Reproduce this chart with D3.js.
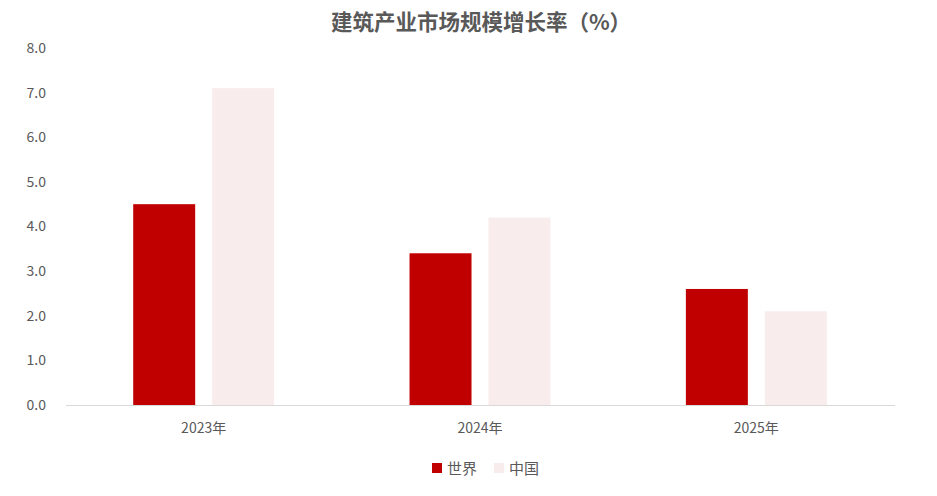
<!DOCTYPE html>
<html><head><meta charset="utf-8">
<script src="https://cdn.jsdelivr.net/npm/d3@7"></script>
<style>body{margin:0;background:#fff;}svg{display:block;font-family:"Noto Sans CJK SC","Noto Sans",sans-serif;}</style>
</head><body>
<svg id="c" width="937" height="496"></svg>
<script>
const categories = ["2023年", "2024年", "2025年"];
const seriesNames = ["世界", "中国"];
const worldValues = [4.5, 3.4, 2.6];
const chinaValues = [7.1, 4.2, 2.1];
const yTicks = [0, 1, 2, 3, 4, 5, 6, 7, 8];
const colors = ["#C00000", "#F9ECEC"];
const title = "建筑产业市场规模增长率（%）";

const svg = d3.select("#c");
const m = {l: 65.5, r: 42.5, t: 48, b: 91};
const W = 937, H = 496;
const x0 = d3.scaleBand().domain(categories).range([m.l, W - m.r]).paddingInner(0.49).paddingOuter(0.245);
const x1 = d3.scaleBand().domain(seriesNames).range([0, x0.bandwidth()]).paddingInner(0.215).paddingOuter(0);
const y = d3.scaleLinear().domain([0, 8]).range([H - m.b, m.t]);

svg.append("text").attr("x", 481).attr("y", 30).attr("text-anchor", "middle")
  .attr("font-size", 21.5).attr("font-weight", "bold").attr("fill", "#595959").text(title);

const yAxis = d3.axisLeft(y).tickValues(yTicks).tickFormat(d3.format(".1f")).tickSize(0).tickPadding(19.5);
const gy = svg.append("g").attr("transform", `translate(${m.l},0)`).call(yAxis);
gy.select(".domain").remove();
gy.selectAll("text").attr("font-size", 14).attr("fill", "#595959").attr("font-family", "Noto Sans CJK SC");

const data = categories.map((c, i) => ({cat: c, vals: [worldValues[i], chinaValues[i]]}));
const g = svg.append("g");
data.forEach(d => {
  d.vals.forEach((v, j) => {
    g.append("rect")
      .attr("x", x0(d.cat) + x1(seriesNames[j]))
      .attr("y", y(v))
      .attr("width", x1.bandwidth())
      .attr("height", y(0) - y(v))
      .attr("fill", colors[j]);
  });
});

const xAxis = d3.axisBottom(x0).tickSize(0).tickPadding(18);
const gx = svg.append("g").attr("transform", `translate(0,${y(0)})`).call(xAxis);
gx.select(".domain").attr("stroke", "#D9D9D9").attr("stroke-width", 1);
gx.selectAll("text").attr("font-size", 14).attr("fill", "#595959").attr("font-family", "Noto Sans CJK SC");

const leg = svg.append("g");
const legX = [432, 494];
seriesNames.forEach((s, i) => {
  leg.append("rect").attr("x", legX[i]).attr("y", 463).attr("width", 10).attr("height", 10).attr("fill", colors[i]);
  leg.append("text").attr("x", legX[i] + 15).attr("y", 474).attr("font-size", 15).attr("fill", "#595959").text(s);
});
</script>
</body></html>
